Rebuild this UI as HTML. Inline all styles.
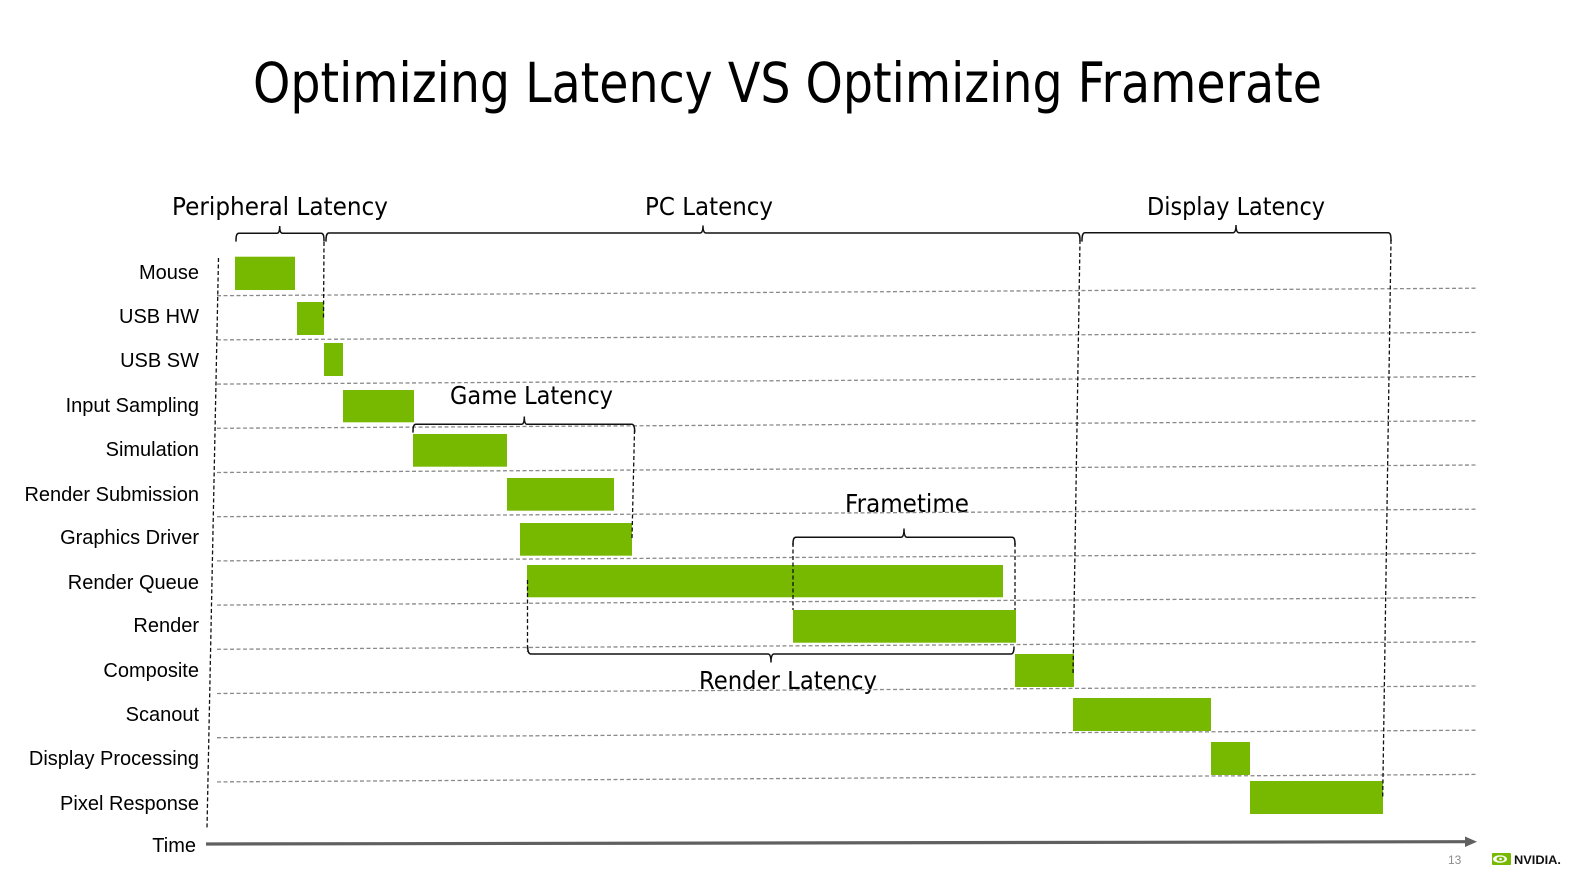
<!DOCTYPE html>
<html>
<head>
<meta charset="utf-8">
<style>
html,body{margin:0;padding:0;background:#fff;}
svg{display:block;}
</style>
</head>
<body>
<svg width="1586" height="892" viewBox="0 0 1586 892" xmlns="http://www.w3.org/2000/svg">
<rect width="1586" height="892" fill="#fff"/>

<!-- Title -->
<text x="253" y="102" font-family="DejaVu Sans, Liberation Sans, sans-serif" font-size="55" fill="#000" textLength="1069" lengthAdjust="spacingAndGlyphs">Optimizing Latency VS Optimizing Framerate</text>

<!-- Section headers -->
<g font-family="DejaVu Sans, Liberation Sans, sans-serif" font-size="25" fill="#000">
<text x="172" y="215" textLength="216" lengthAdjust="spacingAndGlyphs">Peripheral Latency</text>
<text x="645" y="215" textLength="128" lengthAdjust="spacingAndGlyphs">PC Latency</text>
<text x="1147" y="215" textLength="178" lengthAdjust="spacingAndGlyphs">Display Latency</text>
<text x="450" y="404" textLength="163" lengthAdjust="spacingAndGlyphs">Game Latency</text>
<text x="845" y="512" textLength="124" lengthAdjust="spacingAndGlyphs">Frametime</text>
<text x="699" y="689" textLength="178" lengthAdjust="spacingAndGlyphs">Render Latency</text>
</g>

<!-- Horizontal dashed grid lines -->
<g stroke="#8a8a8a" stroke-width="1.3" stroke-dasharray="4 2.5" fill="none">
<line x1="217" y1="295.7" x2="1477" y2="288.2"/>
<line x1="217" y1="339.9" x2="1477" y2="332.4"/>
<line x1="217" y1="384.1" x2="1477" y2="376.6"/>
<line x1="217" y1="428.3" x2="1477" y2="420.8"/>
<line x1="217" y1="472.5" x2="1477" y2="465.0"/>
<line x1="217" y1="516.7" x2="1477" y2="509.2"/>
<line x1="217" y1="560.9" x2="1477" y2="553.4"/>
<line x1="217" y1="605.1" x2="1477" y2="597.6"/>
<line x1="217" y1="649.3" x2="1477" y2="641.8"/>
<line x1="217" y1="693.5" x2="1477" y2="686.0"/>
<line x1="217" y1="737.7" x2="1477" y2="730.2"/>
<line x1="217" y1="781.9" x2="1477" y2="774.4"/>
</g>

<!-- Bars -->
<g fill="#76b900">
<rect x="235" y="256.7" width="60" height="33.3"/>
<rect x="297" y="302" width="27" height="33"/>
<rect x="324" y="343" width="19" height="33"/>
<rect x="343" y="390" width="71" height="32.3"/>
<rect x="413" y="434" width="94" height="32.7"/>
<rect x="507" y="478" width="107" height="32.7"/>
<rect x="520" y="523" width="112" height="32.7"/>
<rect x="527" y="565" width="476" height="32.3"/>
<rect x="793" y="610" width="223" height="32.7"/>
<rect x="1015" y="654" width="59" height="33"/>
<rect x="1073" y="698" width="138" height="33"/>
<rect x="1211" y="742" width="39" height="33"/>
<rect x="1250" y="781" width="133" height="33"/>
</g>

<!-- Vertical dashed lines -->
<g stroke="#111" stroke-width="1.3" stroke-dasharray="4 2.5" fill="none">
<line x1="218.5" y1="258" x2="207" y2="828"/>
<line x1="324" y1="242" x2="323.5" y2="318"/>
<line x1="634.5" y1="430" x2="632" y2="538"/>
<line x1="527.5" y1="580" x2="527.5" y2="652"/>
<line x1="793" y1="543" x2="793" y2="610"/>
<line x1="1015" y1="543" x2="1015" y2="610"/>
<line x1="1080" y1="240" x2="1073" y2="675"/>
<line x1="1391" y1="240" x2="1382.7" y2="797"/>
</g>

<!-- Brackets -->
<g stroke="#111" stroke-width="1.5" fill="none" stroke-linecap="round">
<!-- Peripheral -->
<path d="M236 241 C236 236 236.5 233.3 239 233.3 L277 233.3 Q279.7 233.3 279.7 226 Q279.7 233.3 282.5 233.3 L321 233.3 C323.5 233.3 324 236 324 241"/>
<!-- PC -->
<path d="M326 241 C326 236 326.5 233 329 233 L700 233 Q703 233 703 225.5 Q703 233 706 233 L1077 233 C1079.5 233 1080 236 1080 241"/>
<!-- Display -->
<path d="M1082 241 C1082 236 1082.5 232.7 1085 232.7 L1233 232.7 Q1236 232.7 1236 225 Q1236 232.7 1239 232.7 L1388 232.7 C1390.5 232.7 1391 235.5 1391 241"/>
<!-- Game -->
<path d="M413 432 C413 427 413.5 424.3 416 424.3 L521.5 424.3 Q524.3 424.3 524.3 416.5 Q524.3 424.3 527 424.3 L631.5 424.3 C634 424.3 634.7 427 634.7 432"/>
<!-- Frametime -->
<path d="M793 545 C793 540 793.5 537.3 796 537.3 L901 537.3 Q904 537.3 904 528.5 Q904 537.3 907 537.3 L1012 537.3 C1014.5 537.3 1015 540 1015 545"/>
<!-- Render Latency -->
<path d="M527.7 647 C527.7 651 528.2 654 531 654 L768 654 Q771 654 771 662.5 Q771 654 774 654 L1011 654 C1013.5 654 1014 651 1014 647"/>
</g>

<!-- Row labels -->
<g font-family="Liberation Sans, Arial, sans-serif" font-size="20" fill="#000" text-anchor="end">
<text x="199" y="279">Mouse</text>
<text x="199" y="323">USB HW</text>
<text x="199" y="367">USB SW</text>
<text x="199" y="412">Input Sampling</text>
<text x="199" y="456">Simulation</text>
<text x="199" y="501">Render Submission</text>
<text x="199" y="544">Graphics Driver</text>
<text x="199" y="589">Render Queue</text>
<text x="199" y="632">Render</text>
<text x="199" y="677">Composite</text>
<text x="199" y="721">Scanout</text>
<text x="199" y="765">Display Processing</text>
<text x="199" y="810">Pixel Response</text>
<text x="196" y="852">Time</text>
</g>

<!-- Time axis -->
<line x1="206" y1="844" x2="1467" y2="841.7" stroke="#606060" stroke-width="3.2"/>
<polygon points="1465,836.5 1477,841.7 1465,847" fill="#606060"/>

<!-- Footer -->
<text x="1448" y="864" font-family="Liberation Sans, Arial, sans-serif" font-size="12" fill="#8c8c8c">13</text>
<g>
<rect x="1492" y="853" width="19" height="12" rx="1" fill="#76b900"/>
<ellipse cx="1500" cy="859" rx="7" ry="3.8" fill="#fff"/>
<ellipse cx="1500.5" cy="859" rx="4" ry="2.4" fill="#76b900"/>
<circle cx="1500.5" cy="859" r="1.3" fill="#fff"/>
</g>
<text x="1514" y="864" font-family="Liberation Sans, Arial, sans-serif" font-size="12" font-weight="bold" fill="#111" textLength="47" lengthAdjust="spacingAndGlyphs">NVIDIA.</text>
</svg>
</body>
</html>
